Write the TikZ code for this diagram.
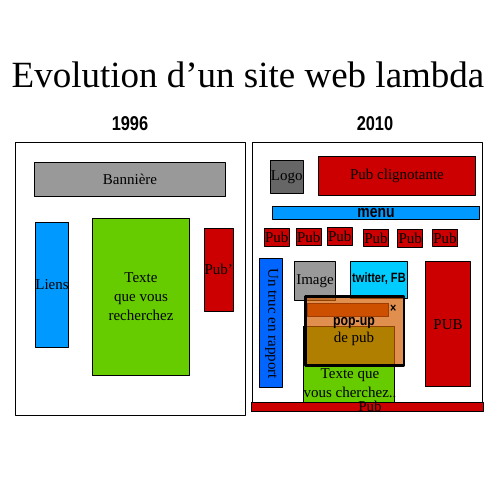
\documentclass[tikz,border=0pt]{standalone}
\usepackage{fontspec}
\setmainfont{Liberation Serif}
\newfontfamily\impact[FakeStretch=0.82]{Liberation Sans}
\definecolor{gris}{HTML}{999999}
\definecolor{grisfonce}{HTML}{666666}
\definecolor{bleu}{HTML}{0099FF}
\definecolor{bleufonce}{HTML}{0066FF}
\definecolor{vert}{HTML}{66CC00}
\definecolor{rouge}{HTML}{CC0000}
\definecolor{ciel}{HTML}{00CCFF}
\definecolor{orange}{RGB}{210,93,0}
\definecolor{barre}{RGB}{205,80,0}
\begin{document}
\begin{tikzpicture}[x=1pt, y=-1pt, line join=round, font=\fontsize{15}{19}\selectfont,
	bloc/.style={draw, line width=0.9pt, inner sep=0pt, align=center},
	annee/.style={font=\impact\bfseries\fontsize{20}{20}\selectfont},
	gras/.style={font=\impact\bfseries\fontsize{#1}{#1}\selectfont, inner sep=0pt}]
	\useasboundingbox (0,0) rectangle (504,497);
	\node[font=\fontsize{37}{40}\selectfont, anchor=base, inner sep=0pt] (titre) at (248,87.3) {Evolution d’un site web lambda};
	\node[annee] (an1996) at (130,124) {1996};
	\node[annee] (an2010) at (375,124) {2010};
	% 1996
	\draw[line width=0.9pt] (15.3,142.3) rectangle (245,415.3);
	\node[bloc, fill=gris, minimum width=191.4pt, minimum height=34pt] (banniere) at (130,179.7) {Bannière};
	\node[bloc, fill=bleu, minimum width=31.4pt, minimum height=125pt] (liens) at (52,284.8) {Liens};
	\node[bloc, fill=vert, minimum width=97.4pt, minimum height=157.7pt] (texte) at (141,296.9) {Texte\\que vous\\recherchez};
	\node[bloc, fill=rouge, minimum width=27pt, minimum height=83pt] (pub) at (218.8,269.8) {Pub’};
	% 2010
	\draw[line width=0.9pt] (252.7,412) -- (252.7,142.7) -- (482.3,142.7) -- (482.3,412);
	\node[bloc, fill=grisfonce, minimum width=33pt, minimum height=33pt] (logo) at (286.8,176.8) {Logo};
	\node[bloc, fill=rouge, minimum width=157.4pt, minimum height=39.3pt] (clignote) at (397,175.7) {Pub clignotante};
	\node[bloc, fill=bleu, minimum width=207.4pt, minimum height=13pt] (menu) at (376,212.8) {};
	\node[gras=17] (menutxt) at (376,213) {menu};
	\foreach \x/\y [count=\i] in {276.8/237.2, 308.8/237, 339.8/236.2, 376/238, 410.2/238.3, 445/238}
		\node[bloc, fill=rouge, minimum width=25pt, minimum height=17.7pt] (pub\i) at (\x,\y) {Pub};
	\node[bloc, fill=bleufonce, minimum width=23pt, minimum height=129pt] (truc) at (270.8,322.8) {};
	\node[rotate=-90] (tructxt) at (271.7,323.5) {Un truc en rapport};
	\node[bloc, fill=gris, minimum width=41.4pt, minimum height=38.6pt] (image) at (315,281) {Image};
	\node[bloc, fill=ciel, minimum width=57.4pt, minimum height=36.6pt] (reseaux) at (379,280) {};
	\node[gras=13.5] (reseauxtxt) at (379,279) {twitter, FB};
	\node[bloc, fill=rouge, minimum width=45.4pt, minimum height=125pt] (grandepub) at (448,324.2) {PUB};
	\node[bloc, fill=vert, minimum width=91pt, minimum height=77pt] (texte2) at (348.8,364.5) {};
	\node[align=center, inner sep=0pt, anchor=south, font=\fontsize{15}{18.5}\selectfont] (texte2txt) at (350,397.5) {Texte que\\vous cherchez..};
	\node[draw=black, line width=2.5pt, fill=orange, fill opacity=0.69, minimum width=98.3pt, minimum height=68.6pt, inner sep=0pt] (popup) at (354.8,331) {};
	\node[draw={rgb,255:red,160;green,60;blue,0}, line width=0.6pt, fill=barre, minimum width=81.4pt, minimum height=13.4pt, inner sep=0pt] (barre) at (348,310) {};
	\node[gras=13] (fermer) at (393.3,308.3) {×};
	\node[gras=15] (popuptxt) at (354,323.3) {pop-up};
	\node[inner sep=0pt] (depub) at (354,339.3) {de pub};
	\node[bloc, fill=rouge, minimum width=232.3pt, minimum height=8.7pt] (bandeau) at (367.2,407.3) {};
	\node[inner sep=0pt, anchor=base] (bandeautxt) at (370,411.5) {Pub};
\end{tikzpicture}
\end{document}
